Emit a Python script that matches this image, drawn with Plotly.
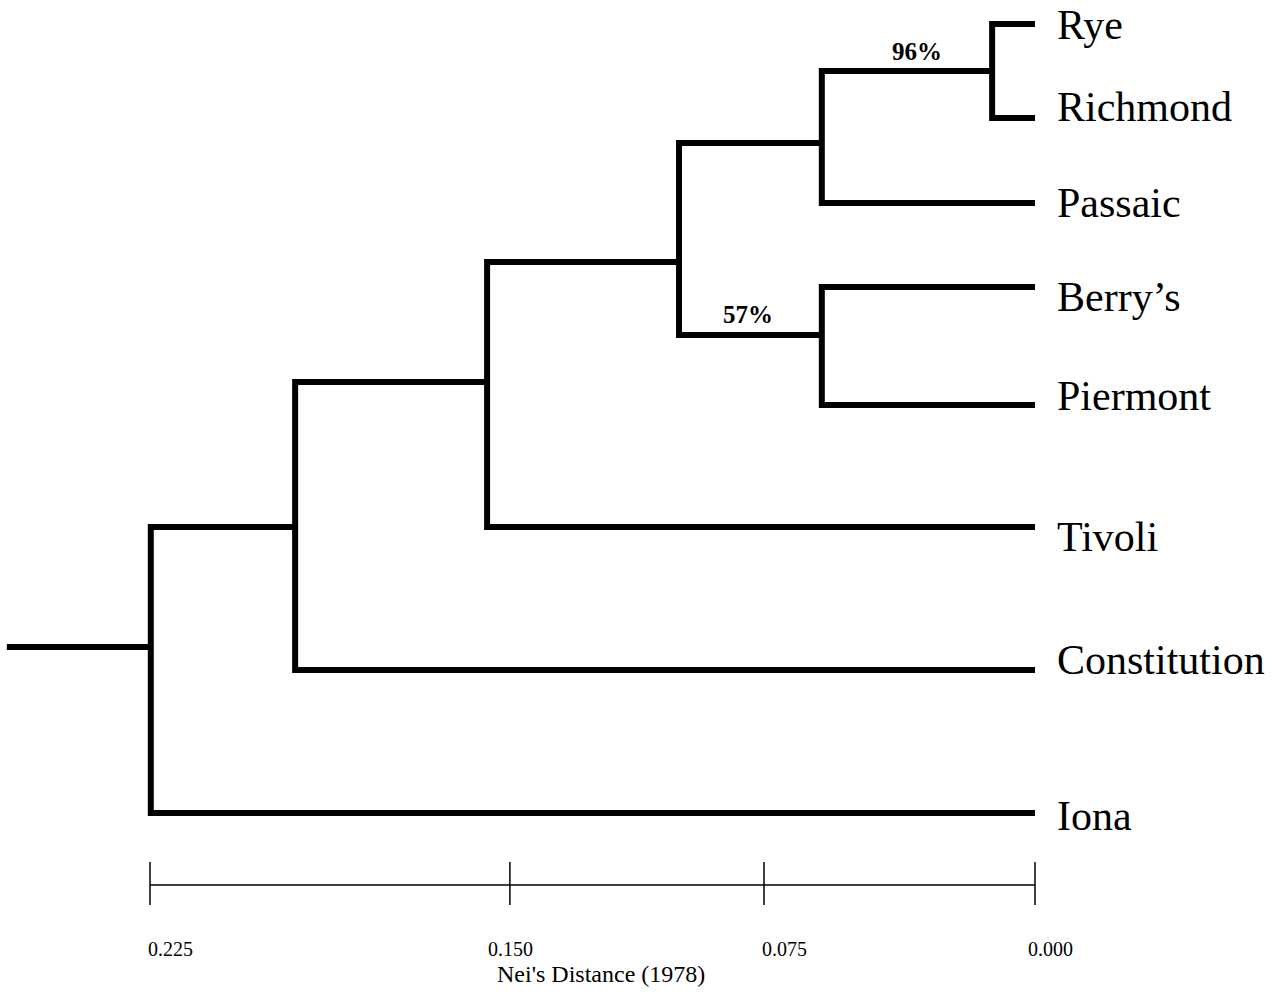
import plotly.graph_objects as go

# ---------------- data ----------------
leaves = ["Rye", "Richmond", "Passaic", "Berry\u2019s", "Piermont", "Tivoli", "Constitution", "Iona"]
leaf_row = [24, 118, 203, 287, 405, 527, 670, 813]          # vertical row of each tip line
leaf_label_row = [25, 107, 203, 297, 396, 537, 660, 816]    # vertical centre of each tip label

# internal nodes: name -> (distance, row, children)
node_names = ["F", "E", "G", "D", "C", "B", "A"]
node_dist = [0.0109, 0.0542, 0.0542, 0.0905, 0.1393, 0.1881, 0.2248]
node_row = [71, 143, 335, 262, 382, 527, 647]
node_children = [
    ["Rye", "Richmond"],
    ["F", "Passaic"],
    ["Berry\u2019s", "Piermont"],
    ["E", "G"],
    ["D", "Tivoli"],
    ["C", "Constitution"],
    ["B", "Iona"],
]
root_tip_dist = 0.2614

support_vals = ["96%", "57%"]
support_dist = [0.0300, 0.0730]
support_row = [51, 314]

scale_tick_vals = [0.2250, 0.1335, 0.0689, 0.0000]
scale_tick_text = ["0.225", "0.150", "0.075", "0.000"]
scale_title = "Nei's Distance (1978)"

# ---------------- build tree paths ----------------
pos = {}
for name, r in zip(leaves, leaf_row):
    pos[name] = (0.0, r)
for name, d, r in zip(node_names, node_dist, node_row):
    pos[name] = (d, r)

xs, ys = [], []
for name, kids in zip(node_names, node_children):
    nd, nr = pos[name]
    c1, c2 = pos[kids[0]], pos[kids[1]]
    xs += [c1[0], nd, nd, c2[0], None]
    ys += [c1[1], c1[1], c2[1], c2[1], None]
# root stem
ad, ar = pos["A"]
xs += [root_tip_dist, ad, None]
ys += [ar, ar, None]

SERIF = "Liberation Serif, Times New Roman, serif"

fig = go.Figure()
fig.add_trace(go.Scatter(x=xs, y=ys, mode="lines",
                         line=dict(color="black", width=6),
                         hoverinfo="skip", showlegend=False))

# scale bar
bar_row, tick_top, tick_bot = 885, 862, 905
sx = [scale_tick_vals[0], scale_tick_vals[-1], None]
sy = [bar_row, bar_row, None]
for v in scale_tick_vals:
    sx += [v, v, None]
    sy += [tick_top, tick_bot, None]
fig.add_trace(go.Scatter(x=sx, y=sy, mode="lines",
                         line=dict(color="black", width=1.5),
                         hoverinfo="skip", showlegend=False))

annotations = []
for name, r in zip(leaves, leaf_label_row):
    annotations.append(dict(x=0.0, y=r, text=name, showarrow=False,
                            xanchor="left", yanchor="middle", xshift=20,
                            font=dict(family=SERIF, size=42, color="black")))
for t, d, r in zip(support_vals, support_dist, support_row):
    annotations.append(dict(x=d, y=r, text="<b>" + t + "</b>", showarrow=False,
                            xanchor="center", yanchor="middle",
                            font=dict(family=SERIF, size=25, color="black")))
label_shift_px = [20, 1, 21, 15]
for v, t, s in zip(scale_tick_vals, scale_tick_text, label_shift_px):
    annotations.append(dict(x=v, y=949, text=t, showarrow=False,
                            xanchor="center", yanchor="middle", xshift=s,
                            font=dict(family=SERIF, size=20, color="black")))
annotations.append(dict(x=0.1103, y=974, text=scale_title, showarrow=False,
                        xanchor="center", yanchor="middle",
                        font=dict(family=SERIF, size=24, color="black")))

# page body margin is removed (post_script), so the figure fills the window
W, H = 1278, 994
# x: distance, linear, 0.225 at px 150 and 0.000 at px 1035
px_per_unit = 885 / 0.225
x_left = 1035 / px_per_unit
x_right = (1035 - W) / px_per_unit

fig.update_layout(
    width=W, height=H,
    margin=dict(l=0, r=0, t=0, b=0),
    paper_bgcolor="white", plot_bgcolor="white",
    xaxis=dict(range=[x_left, x_right], visible=False, fixedrange=True),
    yaxis=dict(range=[H, 0], visible=False, fixedrange=True),
    annotations=annotations,
    showlegend=False,
)

fig.write_html(
    "out.html",
    config={"displayModeBar": False},
    post_script="document.body.style.margin='0';document.body.style.overflow='hidden';",
)
